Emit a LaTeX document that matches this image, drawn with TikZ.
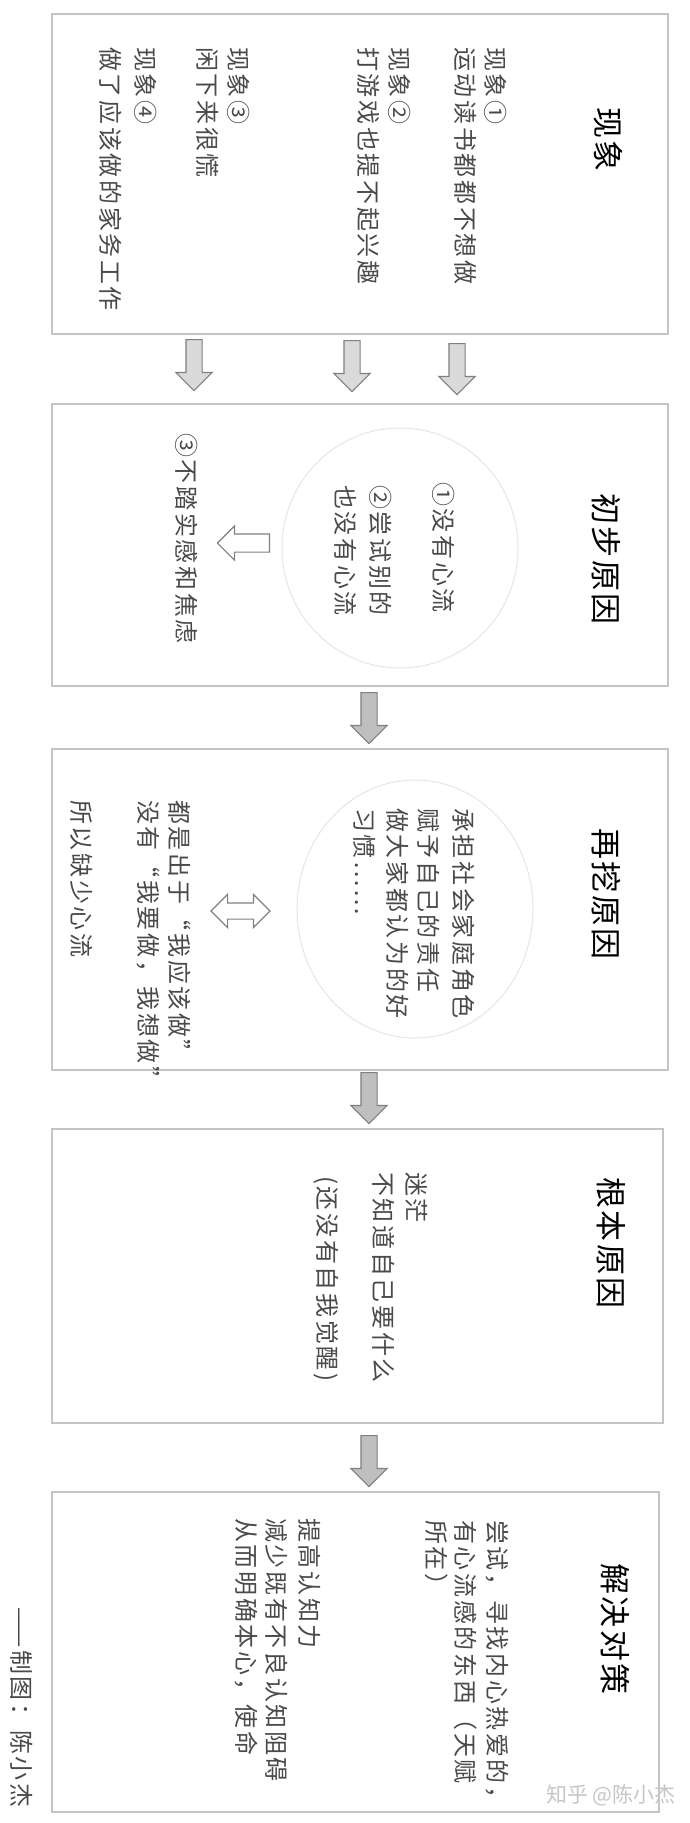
\documentclass[tikz,border=0pt]{standalone}
\usepackage{fontspec}
\setmainfont{Noto Sans CJK SC}
\newfontfamily\cjkbody[LetterSpace=11]{Noto Sans CJK SC}
\newfontfamily\cjkhead[LetterSpace=8]{Noto Sans CJK SC}
\usetikzlibrary{shapes.arrows}

\definecolor{boxgray}{HTML}{C4C4C4}
\definecolor{arrowfill}{HTML}{DADADA}
\definecolor{arrowdark}{HTML}{BFBFBF}
\definecolor{arrowedge}{HTML}{808080}
\definecolor{ink}{HTML}{4A4A4A}
\definecolor{ringgray}{HTML}{E6E6E6}
\definecolor{markgray}{HTML}{C6C6C6}

\begin{document}
\begin{tikzpicture}[x=1pt,y=-1pt,
		panel/.style={draw=boxgray, line width=1.5pt, anchor=north west, inner sep=0pt},
		head/.style={rotate=-90, anchor=west, inner sep=0pt, text=black, font=\cjkhead\fontsize{31}{36}\selectfont},
		txt/.style={rotate=-90, anchor=west, inner sep=0pt, text=ink, font=\cjkbody\fontsize{24}{30}\selectfont},
		downarrow/.style={single arrow, draw=arrowedge, fill=arrowfill, line width=1.2pt, rotate=-90, anchor=tail,
			inner xsep=0pt, inner ysep=7.5pt, single arrow head extend=10pt, minimum height=51pt},
		ring/.style={draw=ringgray, line width=1pt}]
		\fill[white] (0,0) rectangle (690,1823);
		
		\node[panel, minimum width=616pt, minimum height=320pt] (b1) at (51,13) {};
		\node[panel, minimum width=616pt, minimum height=282pt] (b2) at (51,403) {};
		\node[panel, minimum width=616pt, minimum height=321pt] (b3) at (51,748) {};
		\node[panel, minimum width=611pt, minimum height=294pt] (b4) at (51,1128) {};
		\node[panel, minimum width=607pt, minimum height=320pt] (b5) at (51,1491) {};
		
		\node[downarrow] (a1) at (194,339) {};
		\node[downarrow] (a2) at (352,340) {};
		\node[downarrow] (a3) at (457,343) {};
		\node[downarrow, fill=arrowdark] (a4) at (369,692) {};
		\node[downarrow, fill=arrowdark] (a5) at (369,1072) {};
		\node[downarrow, fill=arrowdark] (a6) at (369,1435) {};
		
		% 现象
		\node[head] (t1) at (608,107) {现象};
		\node[txt] (p1a) at (496,47) {现象①};
		\node[txt] (p1b) at (466,47) {运动读书都都不想做};
		\node[txt] (p2a) at (400,47) {现象②};
		\node[txt] (p2b) at (369,47) {打游戏也提不起兴趣};
		\node[txt] (p3a) at (239,47) {现象③};
		\node[txt] (p3b) at (208,47) {闲下来很慌};
		\node[txt] (p4a) at (146,47) {现象④};
		\node[txt] (p4b) at (111,47) {做了应该做的家务工作};
		
		% 初步原因
		\node[head] (t2) at (606,493) {初步原因};
		\draw[ring] (400,548) ellipse [x radius=118pt, y radius=120pt];
		\node[txt] (c1) at (444,482) {①没有心流};
		\node[txt] (c2a) at (381,485) {②尝试别的};
		\node[txt] (c2b) at (346,485) {也没有心流};
		\node[single arrow, draw=arrowedge, fill=white, line width=1.2pt, rotate=180, anchor=tail,
			inner xsep=0pt, inner ysep=8.5pt, single arrow head extend=8pt, minimum height=52pt] (h1) at (270,543) {};
		\node[txt] (c3) at (187,433) {③不踏实感和焦虑};
		
		% 再挖原因
		\node[head] (t3) at (606,828) {再挖原因};
		\draw[ring] (415,909) ellipse [x radius=118pt, y radius=129pt];
		\node[txt] (d1) at (464,808) {承担社会家庭角色};
		\node[txt] (d2) at (429,808) {赋予自己的责任};
		\node[txt] (d3) at (398,808) {做大家都认为的好};
		\node[txt] (d4) at (365,808) {习惯……};
		\node[double arrow, draw=arrowedge, fill=white, line width=1.2pt,
			inner xsep=0pt, inner ysep=7.5pt, double arrow head extend=8.5pt, minimum height=59pt] (h2) at (240.5,911) {};
		\node[txt] (e1) at (180,800) {都是出于“我应该做”};
		\node[txt] (e2) at (148,800) {没有“我要做，我想做”};
		\node[txt] (e3) at (82,800) {所以缺少心流};
		
		% 根本原因
		\node[head] (t4) at (611,1177) {根本原因};
		\node[txt] (f1) at (417,1172) {迷茫};
		\node[txt] (f2) at (384,1172) {不知道自己要什么};
		\node[txt] (f3) at (326,1176) {(还没有自我觉醒)};
		
		% 解决对策
		\node[head] (t5) at (615,1563) {解决对策};
		\node[txt] (g1) at (497,1520) {尝试，寻找内心热爱的，};
		\node[txt] (g2) at (466,1520) {有心流感的东西（天赋};
		\node[txt] (g3) at (437,1520) {所在）};
		\node[txt] (g4) at (310,1518) {提高认知力};
		\node[txt] (g5) at (277,1518) {减少既有不良认知阻碍};
		\node[txt] (g6) at (246,1518) {从而明确本心，使命};
		
		\node[txt] (sig) at (22,1607) {——制图：陈小杰};
		\node[anchor=west, inner sep=0pt, text=markgray, font=\fontsize{21}{24}\selectfont] (wm) at (546,1795) {知乎 @陈小杰};
	\end{tikzpicture}
\end{document}
